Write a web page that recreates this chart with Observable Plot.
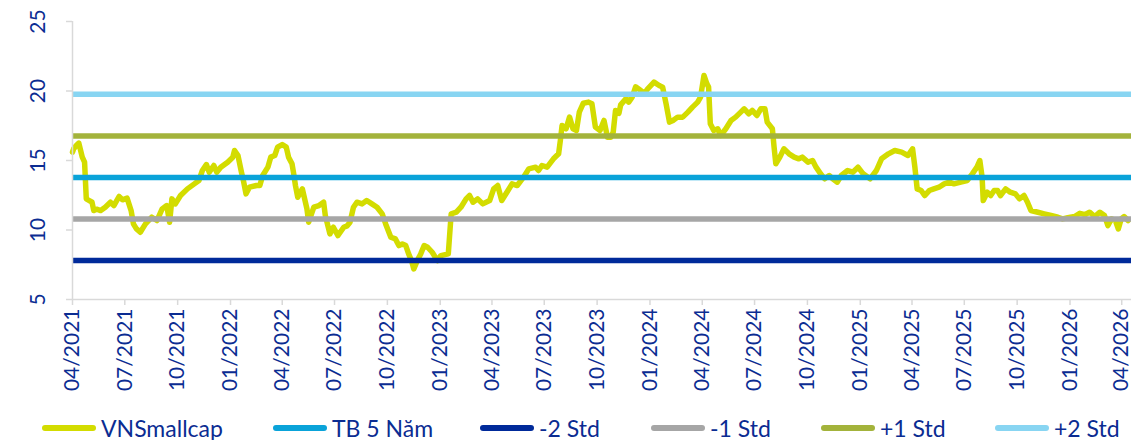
<!DOCTYPE html>
<html>
<head>
<meta charset="utf-8">
<script src="https://cdn.jsdelivr.net/npm/d3@7"></script>
<script src="https://cdn.jsdelivr.net/npm/@observablehq/plot@0.6"></script>
<style>
  html, body { margin: 0; padding: 0; background: #fff; }
  body { width: 1132px; height: 440px; position: relative; overflow: hidden; font-family: Lato, "Noto Sans", sans-serif; }
  #chart { position: absolute; left: 0; top: 0; }
  #legend { position: absolute; left: 0; top: 414px; width: 1132px; height: 28px; }
  .item { position: absolute; top: 0; height: 28px; display: flex; align-items: center; color: #0b2c92; font-size: 23px; white-space: nowrap; }
  .sw { width: 54px; height: 6px; border-radius: 3px; margin-right: 5px; }
</style>
</head>
<body>
<div id="chart"></div>
<div id="legend"></div>
<script>
// ---- data ----
const dates = [
"2021-04-01","2021-04-03","2021-04-08","2021-04-12","2021-04-18","2021-04-22","2021-04-25","2021-05-01","2021-05-05","2021-05-08",
"2021-05-13","2021-05-20","2021-05-28","2021-06-06","2021-06-12","2021-06-21","2021-06-27","2021-07-05","2021-07-12","2021-07-16",
"2021-07-21","2021-07-28","2021-08-06","2021-08-17","2021-08-26","2021-09-04","2021-09-12","2021-09-17","2021-09-21","2021-09-27",
"2021-10-06","2021-10-18","2021-10-30","2021-11-07","2021-11-13","2021-11-20","2021-11-25","2021-12-03","2021-12-08","2021-12-15",
"2021-12-27","2022-01-05","2022-01-08","2022-01-14","2022-01-20","2022-01-24","2022-01-28","2022-02-03","2022-02-15","2022-02-21",
"2022-02-26","2022-03-07","2022-03-12","2022-03-19","2022-03-24","2022-04-01","2022-04-08","2022-04-12","2022-04-18","2022-04-21",
"2022-04-24","2022-04-28","2022-05-06","2022-05-14","2022-05-17","2022-05-26","2022-06-04","2022-06-12","2022-06-15","2022-06-23",
"2022-06-29","2022-07-07","2022-07-17","2022-07-23","2022-07-28","2022-08-03","2022-08-09","2022-08-18","2022-08-26","2022-09-04",
"2022-09-13","2022-09-22","2022-09-28","2022-10-07","2022-10-15","2022-10-21","2022-10-27","2022-11-02","2022-11-07","2022-11-12",
"2022-11-16","2022-11-22","2022-11-28","2022-12-04","2022-12-10","2022-12-18","2022-12-27","2023-01-02","2023-01-15","2023-01-20",
"2023-01-29","2023-02-06","2023-02-15","2023-02-21","2023-02-27","2023-03-07","2023-03-16","2023-03-28","2023-04-04","2023-04-11",
"2023-04-18","2023-04-27","2023-05-06","2023-05-15","2023-05-26","2023-06-04","2023-06-16","2023-06-21","2023-06-27","2023-07-06",
"2023-07-17","2023-07-26","2023-07-29","2023-08-01","2023-08-08","2023-08-14","2023-08-20","2023-08-26","2023-08-31","2023-09-07",
"2023-09-16","2023-09-22","2023-09-28","2023-10-06","2023-10-13","2023-10-19","2023-10-25","2023-10-29","2023-11-02","2023-11-08",
"2023-11-11","2023-11-20","2023-11-25","2023-12-01","2023-12-07","2023-12-16","2023-12-22","2023-12-28","2024-01-08","2024-01-17",
"2024-01-23","2024-01-29","2024-02-04","2024-02-10","2024-02-18","2024-02-27","2024-03-07","2024-03-15","2024-03-24","2024-03-29",
"2024-04-04","2024-04-09","2024-04-12","2024-04-15","2024-04-21","2024-04-28","2024-05-03","2024-05-12","2024-05-21","2024-05-29",
"2024-06-07","2024-06-13","2024-06-21","2024-06-27","2024-07-05","2024-07-12","2024-07-19","2024-07-23","2024-08-01","2024-08-04",
"2024-08-07","2024-08-14","2024-08-21","2024-08-30","2024-09-08","2024-09-16","2024-09-22","2024-10-02","2024-10-10","2024-10-16",
"2024-10-24","2024-10-31","2024-11-08","2024-11-14","2024-11-22","2024-11-29","2024-12-10","2024-12-19","2024-12-28","2025-01-06",
"2025-01-18","2025-01-29","2025-02-07","2025-02-19","2025-03-02","2025-03-14","2025-03-25","2025-04-02","2025-04-06","2025-04-10",
"2025-04-17","2025-04-23","2025-05-01","2025-05-09","2025-05-18","2025-05-27","2025-06-05","2025-06-13","2025-06-25","2025-07-06",
"2025-07-15","2025-07-23","2025-07-28","2025-08-01","2025-08-03","2025-08-10","2025-08-16","2025-08-22","2025-08-28","2025-09-02",
"2025-09-11","2025-09-19","2025-09-28","2025-10-05","2025-10-13","2025-10-19","2025-10-25","2025-11-06","2025-11-17","2025-11-29",
"2025-12-11","2025-12-19","2025-12-28","2026-01-09","2026-01-18","2026-01-27","2026-02-04","2026-02-13","2026-02-22","2026-03-02",
"2026-03-08","2026-03-14","2026-03-21","2026-03-26","2026-03-31","2026-04-05","2026-04-12"
];
const values = [
15.6,15.84,16.1,16.25,15.24,14.88,12.24,12.1,12.0,11.4,
11.5,11.4,11.64,12.0,11.76,12.41,12.17,12.29,11.4,10.44,
10.1,9.84,10.44,10.92,10.68,11.52,11.76,10.56,12.24,11.88,
12.48,12.96,13.32,13.56,14.28,14.71,14.16,14.64,14.16,14.52,
14.88,15.24,15.72,15.36,14.16,13.44,12.6,13.08,13.2,13.2,
13.92,14.52,15.24,15.36,15.96,16.15,15.96,15.24,14.76,14.04,
13.2,12.36,12.96,11.52,10.56,11.64,11.76,12.0,11.04,9.72,
10.2,9.6,10.2,10.3,10.56,11.64,12.0,11.88,12.12,11.88,
11.64,11.16,10.44,9.48,9.36,8.88,9.0,8.88,8.28,7.8,
7.2,7.8,8.28,8.88,8.76,8.4,7.8,8.16,8.28,11.16,
11.28,11.64,12.24,12.48,12.0,12.24,11.88,12.12,12.96,13.2,
12.12,12.72,13.32,13.2,13.8,14.4,14.52,14.28,14.64,14.52,
15.12,15.48,16.44,17.52,17.28,18.12,17.28,17.16,18.48,19.12,
19.2,19.08,17.4,17.16,17.88,16.68,16.68,17.04,18.6,18.4,
19.0,19.44,19.2,19.56,20.3,20.04,19.8,20.16,20.64,20.4,
20.28,19.08,17.76,17.88,18.12,18.12,18.48,18.84,19.2,19.56,
21.12,20.52,20.28,17.64,17.16,17.28,16.8,17.28,17.88,18.12,
18.48,18.72,18.36,18.6,18.24,18.72,18.72,17.76,17.28,15.96,
14.76,15.24,15.84,15.48,15.24,15.12,15.24,14.88,15.0,14.52,
14.04,13.68,13.92,13.68,13.44,13.92,14.28,14.16,14.52,14.04,
13.68,14.28,15.12,15.48,15.72,15.6,15.36,15.84,14.52,12.96,
12.84,12.48,12.84,12.96,13.08,13.32,13.44,13.32,13.44,13.56,
14.04,14.52,15.0,13.8,12.12,12.72,12.48,12.84,12.84,12.48,
12.96,12.72,12.6,12.24,12.48,12.0,11.4,11.28,11.16,11.04,
10.92,10.8,10.88,10.97,11.2,11.1,11.28,10.97,11.28,11.04,
10.32,10.8,10.68,10.08,10.8,10.97,10.68
];
const seriesName = "VNSmallcap";
const levelNames = ["TB 5 Năm", "-2 Std", "-1 Std", "+1 Std", "+2 Std"];
const levelValues = [13.78, 7.8, 10.79, 16.77, 19.77];
const xTickLabels = ["04/2021","07/2021","10/2021","01/2022","04/2022","07/2022","10/2022","01/2023","04/2023","07/2023","10/2023",
  "01/2024","04/2024","07/2024","10/2024","01/2025","04/2025","07/2025","10/2025","01/2026","04/2026"];
const yTicks = [5, 10, 15, 20, 25];
const xStart = "2021-04-01";
const xEnd = "2026-04-18";

// ---- styles ----
const seriesColor = "#d3dc00";
const levelColors = ["#0aa3d9", "#002a9a", "#a6a6a6", "#a3b33b", "#88d5f2"];
const textColor = "#0b2c92";
const axisColor = "#d9d9d9";

const parse = d3.utcParse("%Y-%m-%d");
const series = dates.map((d, i) => ({date: parse(d), value: values[i]}));
const levels = levelNames.map((n, i) => ({name: n, value: levelValues[i], color: levelColors[i]}));
const parseTick = d3.utcParse("%m/%Y");
const xTicks = xTickLabels.map(parseTick);
const x0 = parse(xStart), x1 = parse(xEnd);

const chart = Plot.plot({
  width: 1132,
  height: 396,
  marginLeft: 72,
  marginRight: 1,
  marginTop: 21,
  marginBottom: 97,
  style: {fontFamily: "Lato, 'Noto Sans', sans-serif", background: "#fff", overflow: "visible"},
  x: {type: "utc", domain: [x0, x1]},
  y: {domain: [5, 25]},
  marks: [
    Plot.line(series, {x: "date", y: "value", stroke: seriesColor, strokeWidth: 5.5, strokeLinejoin: "round", strokeLinecap: "round"}),
    Plot.ruleY(levels, {y: "value", stroke: "color", strokeWidth: 5.5, strokeLinecap: "butt"}),
    Plot.ruleX([x0], {stroke: axisColor, strokeWidth: 1.5}),
    Plot.ruleY([5], {stroke: axisColor, strokeWidth: 1.5}),
    Plot.axisY({ticks: yTicks, tickSize: 6, tickRotate: -90, tickPadding: 22, fontSize: 21, color: textColor, stroke: axisColor, strokeWidth: 1.5, label: null}),
    Plot.axisX({ticks: xTicks, tickSize: 6, tickRotate: -90, tickPadding: 3, tickFormat: d3.utcFormat("%m/%Y"), fontSize: 21, color: textColor, stroke: axisColor, strokeWidth: 1.5, label: null})
  ]
});
chart.querySelectorAll("[aria-label='y-axis tick'] path, [aria-label='x-axis tick'] path").forEach(p => p.setAttribute("stroke", axisColor));
document.getElementById("chart").appendChild(chart);

// ---- legend ----
const legendItems = [{name: seriesName, color: seriesColor}, ...levels];
const legendLeft = [42, 273, 480, 651, 821, 995];
const legend = document.getElementById("legend");
legendItems.forEach((it, i) => {
  const el = document.createElement("div");
  el.className = "item";
  el.style.left = legendLeft[i] + "px";
  const sw = document.createElement("span");
  sw.className = "sw";
  sw.style.background = it.color;
  const tx = document.createElement("span");
  tx.textContent = it.name;
  el.appendChild(sw);
  el.appendChild(tx);
  legend.appendChild(el);
});
</script>
</body>
</html>
